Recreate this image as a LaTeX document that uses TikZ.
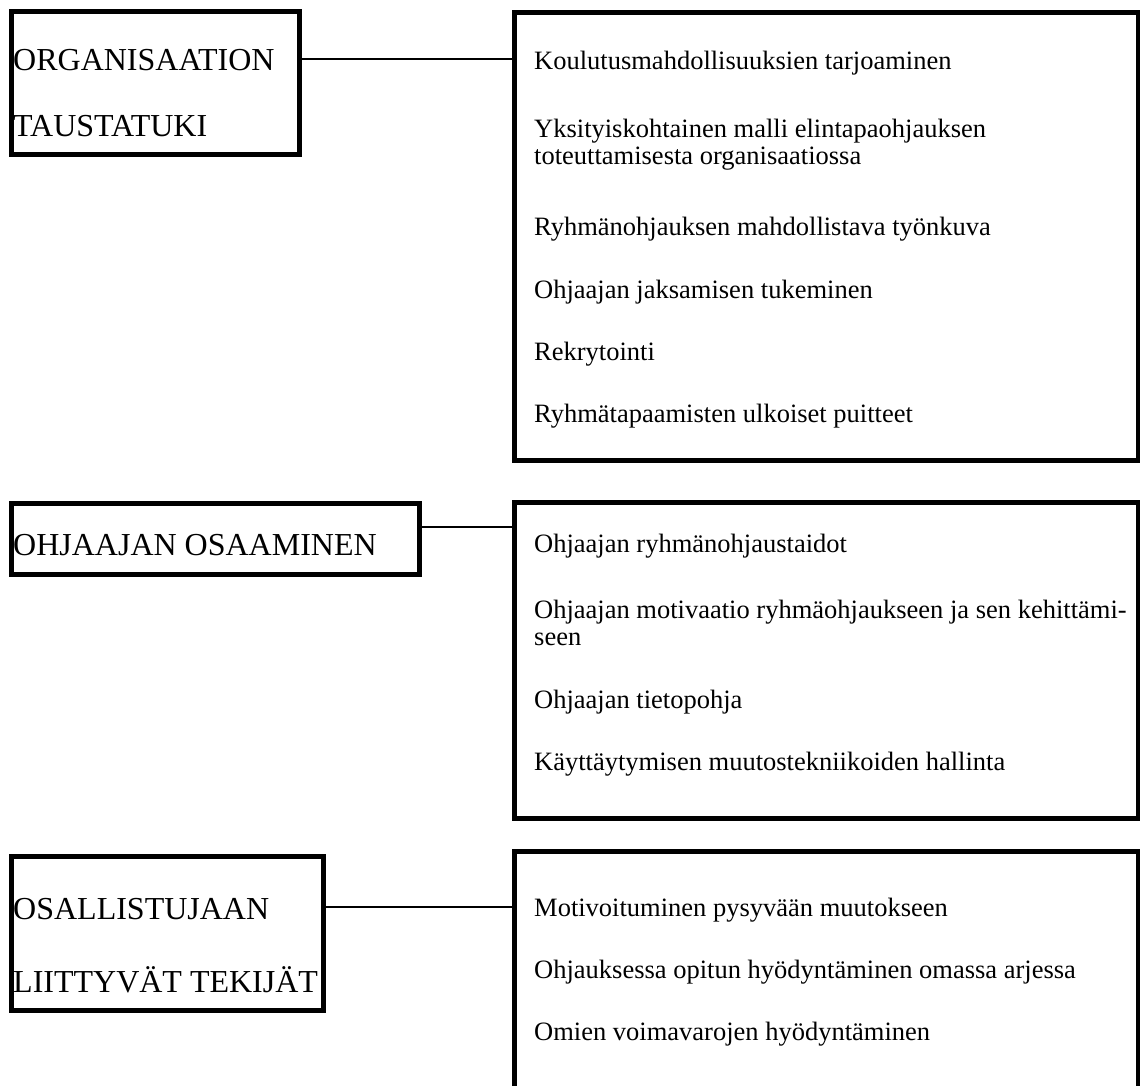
\documentclass[tikz,border=0pt]{standalone}
\usepackage{fontspec}
\setmainfont{Liberation Serif}
\begin{document}
\begin{tikzpicture}[x=1pt,y=-1pt,
  box/.style={draw=black,line width=5pt,rectangle,inner sep=0pt,outer sep=0pt,anchor=north west},
  conn/.style={draw=black,line width=2pt},
  head/.style={anchor=base west,inner sep=0pt,font=\fontsize{32}{36}\selectfont},
  item/.style={anchor=base west,inner sep=0pt,font=\fontsize{26.5}{30}\selectfont}]
\useasboundingbox[fill=white] (0,0) rectangle (1140,1086);
\clip (0,0) rectangle (1140,1086);
% left boxes
\node[box,minimum width=288pt,minimum height=143pt] (L1) at (11.5,11.5) {};
\node[box,minimum width=408.5pt,minimum height=70.5pt] (L2) at (11,503.5) {};
\node[box,minimum width=312.5pt,minimum height=154pt] (L3) at (11,856.5) {};
% right boxes
\node[box,minimum width=624pt,minimum height=447.5pt] (R1) at (514.5,12.5) {};
\node[box,minimum width=624pt,minimum height=315.5pt] (R2) at (514.5,502.5) {};
\node[box,minimum width=624pt,minimum height=350pt] (R3) at (514.5,851.5) {};
% connector levels
\coordinate (c1) at (0,59);
\coordinate (c2) at (0,526.5);
\coordinate (c3) at (0,907);
\draw[conn] (L1.east |- c1) -- (R1.west |- c1);
\draw[conn] (L2.east |- c2) -- (R2.west |- c2);
\draw[conn] (L3.east |- c3) -- (R3.west |- c3);
% headings
\node[head] (h1a) at (13,71) {ORGANISAATION};
\node[head] (h1b) at (13,137) {TAUSTATUKI};
\node[head] (h2a) at (13,555) {OHJAAJAN OSAAMINEN};
\node[head] (h3a) at (13,919) {OSALLISTUJAAN};
\node[head] (h3b) at (13,992) {LIITTYVÄT TEKIJÄT};
% items box 1
\node[item] (a1) at (534,70) {Koulutusmahdollisuuksien tarjoaminen};
\node[item] (a2) at (534,138) {Yksityiskohtainen malli elintapaohjauksen};
\node[item] (a2b) at (534,165) {toteuttamisesta organisaatiossa};
\node[item] (a3) at (534,236) {Ryhmänohjauksen mahdollistava työnkuva};
\node[item] (a4) at (534,298) {Ohjaajan jaksamisen tukeminen};
\node[item] (a5) at (534,360) {Rekrytointi};
\node[item] (a6) at (534,422) {Ryhmätapaamisten ulkoiset puitteet};
% items box 2
\node[item] (b1) at (534,552) {Ohjaajan ryhmänohjaustaidot};
\node[item] (b2) at (534,618) {Ohjaajan motivaatio ryhmäohjaukseen ja sen kehittämi-};
\node[item] (b2b) at (534,645) {seen};
\node[item] (b3) at (534,708) {Ohjaajan tietopohja};
\node[item] (b4) at (534,770) {Käyttäytymisen muutostekniikoiden hallinta};
% items box 3
\node[item] (d1) at (534,916) {Motivoituminen pysyvään muutokseen};
\node[item] (d2) at (534,978) {Ohjauksessa opitun hyödyntäminen omassa arjessa};
\node[item] (d3) at (534,1040) {Omien voimavarojen hyödyntäminen};
\end{tikzpicture}
\end{document}
